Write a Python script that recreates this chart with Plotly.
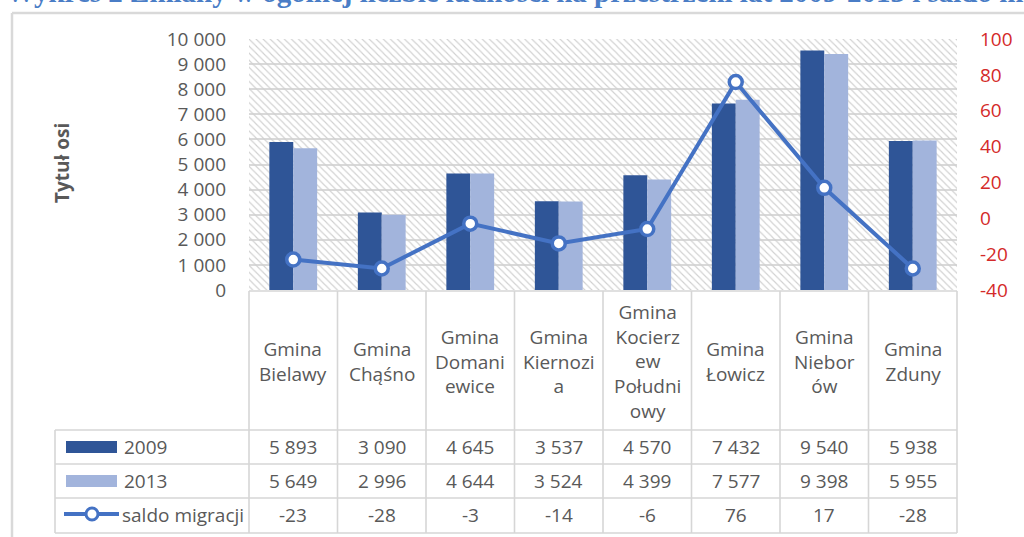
import plotly.graph_objects as go

# ---------------- data ----------------
categories = ["Gmina Bielawy", "Gmina Chąśno", "Gmina Domaniewice", "Gmina Kiernozia",
              "Gmina Kocierzew Południowy", "Gmina Łowicz", "Gmina Nieborów", "Gmina Zduny"]
header_labels = ["Gmina<br>Bielawy", "Gmina<br>Chąśno", "Gmina<br>Domani<br>ewice",
                 "Gmina<br>Kiernozi<br>a", "Gmina<br>Kocierz<br>ew<br>Południ<br>owy",
                 "Gmina<br>Łowicz", "Gmina<br>Niebor<br>ów", "Gmina<br>Zduny"]
pop_2009 = [5893, 3090, 4645, 3537, 4570, 7432, 9540, 5938]
pop_2013 = [5649, 2996, 4644, 3524, 4399, 7577, 9398, 5955]
saldo = [-23, -28, -3, -14, -6, 76, 17, -28]
series_names = ["2009", "2013", "saldo migracji"]
left_ticks = list(range(0, 10001, 1000))
right_ticks = list(range(-40, 101, 20))
title_text = "Wykres 2 Zmiany w ogólnej liczbie ludności na przestrzeni lat 2009-2013 i saldo migracji"
axis_title = "Tytuł osi"

# ---------------- style ----------------
DARK = "#2F5597"
LIGHT = "#A2B4DC"
LINE = "#4472C4"
GRAY_TXT = "#595959"
RED = "#D42A2A"
GRID = "#D9D9D9"
TBL = "#D6D6D6"
FONT = "Open Sans"

W, H = 1024, 537
L, R, T, B = 249, 957, 39, 290
PW, PH = R - L, B - T


def px(x):
    return (x - L) / PW


def py(y):
    return (B - y) / PH


def fmt(v):
    return f"{v:,}".replace(",", "\u00a0")


fig = go.Figure()

# hatched plot-area background (main axes, drawn below everything)
fig.add_trace(go.Bar(
    x=[0.5], y=[1], width=[1], xaxis="x", yaxis="y",
    marker=dict(color="#D0D0D0", line=dict(width=0),
                pattern=dict(shape="\\", size=5, solidity=0.22,
                             fillmode="replace", bgcolor="rgba(0,0,0,0)")),
    hoverinfo="skip", showlegend=False,
))

fig.add_trace(go.Bar(x=categories, y=pop_2009, name=series_names[0],
                     xaxis="x2", yaxis="y2", marker=dict(color=DARK, line=dict(width=0)),
                     offsetgroup="a"))
fig.add_trace(go.Bar(x=categories, y=pop_2013, name=series_names[1],
                     xaxis="x2", yaxis="y2", marker=dict(color=LIGHT, line=dict(width=0)),
                     offsetgroup="b"))
fig.add_trace(go.Scatter(x=categories, y=saldo, name=series_names[2],
                         xaxis="x2", yaxis="y3", mode="lines+markers",
                         line=dict(color=LINE, width=4),
                         marker=dict(size=13, color="white", line=dict(color=LINE, width=3.5)),
                         cliponaxis=False))

fig.update_layout(
    width=W, height=H,
    margin=dict(l=L, r=W - R, t=T, b=H - B, pad=0),
    paper_bgcolor="white", plot_bgcolor="white",
    showlegend=False,
    barmode="group", bargap=0.46, bargroupgap=0,
    font=dict(family=FONT, color=GRAY_TXT, size=19),
    xaxis=dict(range=[0, 1], visible=False, fixedrange=True),
    yaxis=dict(range=[0, 1], visible=False, fixedrange=True),
    xaxis2=dict(overlaying="x", type="category", range=[-0.5, 7.5],
                showticklabels=False, showgrid=False, zeroline=False, showline=False,
                categoryorder="array", categoryarray=categories),
    yaxis2=dict(overlaying="y", side="left", range=[0, 10000],
                tickvals=left_ticks, ticktext=[fmt(v) for v in left_ticks],
                showgrid=True, gridcolor=GRID, gridwidth=1.6, zeroline=False,
                showline=False, ticks="", ticklabelstandoff=22,
                tickfont=dict(family=FONT, size=19, color=GRAY_TXT)),
    yaxis3=dict(overlaying="y", side="right", range=[-40, 100],
                tickvals=right_ticks, ticktext=[str(v) for v in right_ticks],
                showgrid=False, zeroline=False, showline=False, ticks="",
                ticklabelstandoff=22,
                tickfont=dict(family=FONT, size=19, color=RED)),
)

shapes = []
ann = []

# outer frame
shapes.append(dict(type="line", xref="paper", yref="paper", x0=px(12), x1=px(1030),
                   y0=py(13), y1=py(13), line=dict(color="#D9D9D9", width=2.5)))
shapes.append(dict(type="line", xref="paper", yref="paper", x0=px(12), x1=px(12),
                   y0=py(13), y1=py(540), line=dict(color="#D9D9D9", width=2.5)))

# data table grid
col_w = PW / len(categories)
row_lines = [430, 464, 498, 533]
for k in range(len(categories) + 1):
    xk = L + col_w * k
    shapes.append(dict(type="line", xref="paper", yref="paper", x0=px(xk), x1=px(xk),
                       y0=py(291), y1=py(533), line=dict(color=TBL, width=1.6)))
shapes.append(dict(type="line", xref="paper", yref="paper", x0=px(L), x1=px(R),
                   y0=py(291), y1=py(291), line=dict(color=TBL, width=1.6)))
for yl in row_lines:
    shapes.append(dict(type="line", xref="paper", yref="paper", x0=px(55), x1=px(R),
                       y0=py(yl), y1=py(yl), line=dict(color=TBL, width=1.6)))
shapes.append(dict(type="line", xref="paper", yref="paper", x0=px(55), x1=px(55),
                   y0=py(430), y1=py(533), line=dict(color=TBL, width=1.6)))

# header labels
for cat, lab in zip(categories, header_labels):
    ann.append(dict(x=cat, xref="x2", y=py(361), yref="paper", text=lab, showarrow=False,
                    xanchor="center", yanchor="middle",
                    font=dict(family=FONT, size=19, color=GRAY_TXT)))

# values
row_centers = [447, 481, 515]
for vals, yc in zip([pop_2009, pop_2013, saldo], row_centers):
    for cat, v in zip(categories, vals):
        ann.append(dict(x=cat, xref="x2", y=py(yc), yref="paper", text=fmt(v),
                        showarrow=False, xanchor="center", yanchor="middle",
                        font=dict(family=FONT, size=19, color=GRAY_TXT)))

# legend keys in the table
shapes.append(dict(type="rect", xref="paper", yref="paper", x0=px(66), x1=px(117),
                   y0=py(441), y1=py(453), fillcolor=DARK, line=dict(width=0)))
shapes.append(dict(type="rect", xref="paper", yref="paper", x0=px(66), x1=px(117),
                   y0=py(475), y1=py(487), fillcolor=LIGHT, line=dict(width=0)))
shapes.append(dict(type="line", xref="paper", yref="paper", x0=px(64), x1=px(119),
                   y0=py(514), y1=py(514), line=dict(color=LINE, width=4)))
shapes.append(dict(type="circle", xref="paper", yref="paper", x0=px(86), x1=px(98),
                   y0=py(508), y1=py(520), fillcolor="white", line=dict(color=LINE, width=3)))
for name, xs, yc in zip(series_names, [122, 122, 120], row_centers):
    ann.append(dict(x=px(xs), xref="paper", y=py(yc), yref="paper", text=name,
                    showarrow=False, xanchor="left", yanchor="middle",
                    font=dict(family=FONT, size=19, color=GRAY_TXT)))

# axis title
ann.append(dict(x=px(62), xref="paper", y=py(163), yref="paper", text=f"<b>{axis_title}</b>",
                textangle=-90, showarrow=False, xanchor="center", yanchor="middle",
                font=dict(family=FONT, size=19, color=GRAY_TXT)))

# cut-off document caption at the very top (as in the reference screenshot)
ann.append(dict(x=px(4), xref="paper", y=py(-8), yref="paper", text=f"<b>{title_text}</b>",
                showarrow=False, xanchor="left", yanchor="middle",
                font=dict(family="Liberation Serif", size=29, color="#4A7DC6")))

fig.update_layout(shapes=shapes, annotations=ann)
fig.write_html("out.html", config={"displayModeBar": False},
               post_script="document.body.style.margin='0';")
